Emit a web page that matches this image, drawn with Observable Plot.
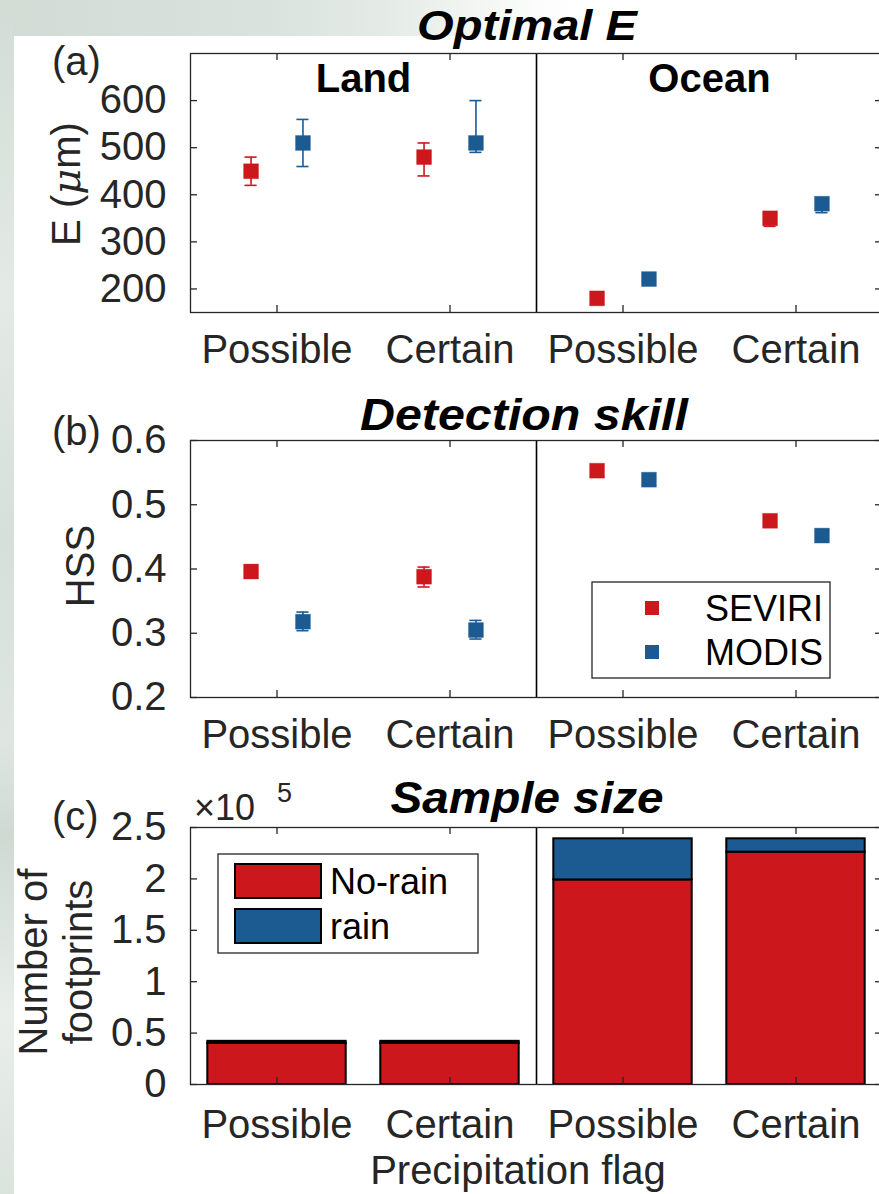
<!DOCTYPE html>
<html>
<head>
<meta charset="utf-8">
<script src="https://cdn.jsdelivr.net/npm/d3@7"></script>
<script src="https://cdn.jsdelivr.net/npm/@observablehq/plot@0.6"></script>
<style>
  html, body { margin: 0; padding: 0; width: 879px; height: 1194px; overflow: hidden; background: #fff; }
  #bgTop { position: absolute; left: 0; top: 0; width: 879px; height: 36px;
    background: linear-gradient(to right, #d2dcd5 0%, #d9e2dc 30%, #e6ece7 45%, #f8faf8 58%, #ffffff 66%); }
  #bgLeft { position: absolute; left: 0; top: 0; width: 14px; height: 1194px;
    background: linear-gradient(to bottom, #d2dcd5 0%, #e4eae5 25%, #d6dfd9 45%, #dfe6e1 62%, #cfd9d2 70%, #e9eeea 85%, #dbe3dd 100%); }
  .panel { position: absolute; left: 0; }
  #overlay { position: absolute; left: 0; top: 0; }
</style>
</head>
<body>
<div id="bgTop"></div>
<div id="bgLeft"></div>
<div id="pa" class="panel" style="top:0px"></div>
<div id="pb" class="panel" style="top:390px"></div>
<div id="pc" class="panel" style="top:770px"></div>
<script>
// ---------------- data ----------------
const categories = ["Possible", "Certain", "Possible", "Certain"];
const surfaceOf  = ["Land", "Land", "Ocean", "Ocean"];
const surfaces   = ["Land", "Ocean"];
const sensors    = ["SEVIRI", "MODIS"];
const rainTypes  = ["No-rain", "rain"];

// Optimal E (µm)
const E_seviri    = [450, 480, 180, 350];
const E_seviri_lo = [420, 440, 174, 333];
const E_seviri_hi = [480, 510, 186, 356];
const E_modis     = [510, 510, 221, 381];
const E_modis_lo  = [460, 490, 215, 362];
const E_modis_hi  = [560, 600, 227, 391];

// Detection skill (HSS)
const hss_seviri    = [0.396, 0.388, 0.553, 0.475];
const hss_seviri_lo = [0.386, 0.372, 0.548, 0.470];
const hss_seviri_hi = [0.406, 0.403, 0.558, 0.480];
const hss_modis     = [0.318, 0.305, 0.539, 0.452];
const hss_modis_lo  = [0.304, 0.291, 0.534, 0.447];
const hss_modis_hi  = [0.333, 0.320, 0.544, 0.457];

// Sample size (number of footprints)
const noRainCount = [40000, 40000, 199000, 226000];
const rainCount   = [2000, 2000, 40000, 13000];

// tick values
const eTicks   = [200, 300, 400, 500, 600];
const hssTicks = [0.2, 0.3, 0.4, 0.5, 0.6];
const nTicks   = [0, 50000, 100000, 150000, 200000, 250000];

// ---------------- styles ----------------
const FONT = '"Liberation Sans", Arial, Helvetica, sans-serif';
const RED = "#cc171d", BLUE = "#1c5a92", INK = "#262626";
const W = 879, ML = 190, MR = -3;
const frameW = W - ML - MR;
const xTicks = categories.map((_, i) => i + 1);
const divider = surfaceOf.filter(s => s === "Land").length + 0.5;
const sensorOffset = {SEVIRI: -0.15, MODIS: 0.15};
const capHalf = 0.035;

function points(vals, los, his) {
  const out = [];
  categories.forEach((c, i) => {
    sensors.forEach((s, k) => {
      out.push({sensor: s, x: i + 1 + sensorOffset[s], v: vals[k][i], lo: los[k][i], hi: his[k][i]});
    });
  });
  return out;
}
const ePts = points([E_seviri, E_modis], [E_seviri_lo, E_modis_lo], [E_seviri_hi, E_modis_hi]);
const hPts = points([hss_seviri, hss_modis], [hss_seviri_lo, hss_modis_lo], [hss_seviri_hi, hss_modis_hi]);

const bars = [];
categories.forEach((c, i) => {
  bars.push({type: "No-rain", pos: i + 1, y1: 0, y2: noRainCount[i]});
  bars.push({type: "rain", pos: i + 1, y1: noRainCount[i], y2: noRainCount[i] + rainCount[i]});
});

const surfaceCenter = s => d3.mean(xTicks.filter((_, i) => surfaceOf[i] === s));

function errorMarks(pts) {
  return [
    Plot.ruleX(pts, {x: "x", y1: "lo", y2: "hi", stroke: "sensor", strokeWidth: 1.6}),
    Plot.ruleY(pts, {y: "lo", x1: d => d.x - capHalf, x2: d => d.x + capHalf, stroke: "sensor", strokeWidth: 1.6}),
    Plot.ruleY(pts, {y: "hi", x1: d => d.x - capHalf, x2: d => d.x + capHalf, stroke: "sensor", strokeWidth: 1.6}),
    Plot.dot(pts, {x: "x", y: "v", symbol: "square", r: 8.4, fill: "sensor", stroke: "sensor", strokeWidth: 0.6, strokeOpacity: 0.6})
  ];
}

function panel({height, marginTop, marginBottom, yDomain, yTicks, yFormat, xPad, colorDomain, marks}) {
  const frameH = height - marginTop - marginBottom;
  return Plot.plot({
    width: W, height, marginLeft: ML, marginRight: MR, marginTop, marginBottom,
    style: {background: "transparent", fontFamily: FONT, fontSize: "40px", color: INK},
    x: {domain: [0.5, 4.5]},
    y: {domain: yDomain},
    color: {domain: colorDomain, range: [RED, BLUE]},
    marks: [
      ...marks,
      Plot.ruleX([divider], {stroke: "#000", strokeWidth: 1.6}),
      Plot.frame({stroke: INK, strokeWidth: 1.3}),
      Plot.tickX(xTicks, {x: d => d, insetTop: frameH - 7, stroke: INK, strokeWidth: 1.3}),
      Plot.tickX(xTicks, {x: d => d, insetBottom: frameH - 7, stroke: INK, strokeWidth: 1.3}),
      Plot.tickY(yTicks, {y: d => d, insetRight: frameW - 7, stroke: INK, strokeWidth: 1.3}),
      Plot.tickY(yTicks, {y: d => d, insetLeft: frameW - 7, stroke: INK, strokeWidth: 1.3}),
      Plot.axisX({ticks: xTicks, tickSize: 0, tickPadding: xPad, tickFormat: d => categories[d - 1], label: null, fill: INK}),
      Plot.axisY({ticks: yTicks, tickSize: 0, tickPadding: 24, tickFormat: yFormat, label: null, fill: INK})
    ]
  });
}

// Panel (a)
document.getElementById("pa").append(panel({
  height: 380, marginTop: 53, marginBottom: 68, yDomain: [150, 700], yTicks: eTicks,
  yFormat: d => String(d), xPad: 22, colorDomain: sensors,
  marks: [
    ...errorMarks(ePts),
    Plot.text(surfaces, {x: s => surfaceCenter(s), text: s => s, frameAnchor: "top", dy: 10,
      fontWeight: "bold", fontSize: 40, fill: "#000"})
  ]
}));

// Panel (b)
document.getElementById("pb").append(panel({
  height: 380, marginTop: 50, marginBottom: 73, yDomain: [0.2, 0.6], yTicks: hssTicks,
  yFormat: d3.format(".1f"), xPad: 22, colorDomain: sensors,
  marks: errorMarks(hPts)
}));

// Panel (c)
document.getElementById("pc").append(panel({
  height: 424, marginTop: 57, marginBottom: 110, yDomain: [0, 250000], yTicks: nTicks,
  yFormat: d => String(+(d / 1e5).toFixed(1)), xPad: 25, colorDomain: rainTypes,
  marks: [
    Plot.rectY(bars, {x1: d => d.pos - 0.4, x2: d => d.pos + 0.4, y1: "y1", y2: "y2", fill: "type", stroke: "#000", strokeWidth: 2})
  ]
}));

// ---------------- annotations & legends ----------------
const svg = d3.create("svg").attr("id", "overlay").attr("width", W).attr("height", 1194)
  .style("font-family", FONT).style("pointer-events", "none");

function txt(x, y, s, o = {}) {
  const t = svg.append("text").attr("x", x).attr("y", y).text(s)
    .attr("font-size", o.size || 40).attr("fill", o.fill || INK)
    .attr("text-anchor", o.anchor || "start");
  if (o.bold) t.attr("font-weight", "bold");
  if (o.italic) t.attr("font-style", "italic");
  if (o.rotate) t.attr("transform", `rotate(-90 ${x} ${y})`);
  if (o.len) t.attr("textLength", o.len).attr("lengthAdjust", "spacingAndGlyphs");
  return t;
}

// titles
txt(527, 40, "Optimal E", {size: 43, bold: true, italic: true, fill: "#000", anchor: "middle", len: 220});
txt(524, 430, "Detection skill", {size: 45, bold: true, italic: true, fill: "#000", anchor: "middle", len: 328});
txt(527, 813, "Sample size", {size: 45, bold: true, italic: true, fill: "#000", anchor: "middle", len: 273});

// panel letters
txt(52, 75, "(a)");
txt(52, 445, "(b)");
txt(52, 830, "(c)");

// y labels
const eLab = txt(80, 184, "", {rotate: true, anchor: "middle"});
eLab.append("tspan").text("E (");
eLab.append("tspan").attr("font-style", "italic").attr("font-family", '"DejaVu Serif", serif').text("μ");
eLab.append("tspan").text("m)");
txt(94, 566, "HSS", {rotate: true, anchor: "middle"});
txt(47, 962, "Number of", {rotate: true, anchor: "middle"});
txt(92, 962, "footprints", {rotate: true, anchor: "middle"});

// x label
txt(518, 1184, "Precipitation flag", {anchor: "middle"});

// exponent
txt(194, 820, "×10", {size: 36});
txt(277, 802, "5", {size: 27});

// legend (b)
svg.append("rect").attr("x", 592).attr("y", 582).attr("width", 238).attr("height", 96)
  .attr("fill", "#fff").attr("stroke", INK).attr("stroke-width", 1.3);
sensors.forEach((s, i) => {
  const cy = 608 + i * 44;
  svg.append("rect").attr("x", 645).attr("y", cy - 7).attr("width", 14).attr("height", 14)
    .attr("fill", [RED, BLUE][i]);
  txt(705, cy + 13, s, {size: 36, fill: "#000"});
});

// legend (c)
svg.append("rect").attr("x", 218).attr("y", 854).attr("width", 260).attr("height", 99)
  .attr("fill", "#fff").attr("stroke", INK).attr("stroke-width", 1.3);
rainTypes.forEach((s, i) => {
  const y0 = 864 + i * 45;
  svg.append("rect").attr("x", 235).attr("y", y0).attr("width", 86).attr("height", 34)
    .attr("fill", [RED, BLUE][i]).attr("stroke", "#000").attr("stroke-width", 2);
  txt(330, y0 + 30, s, {size: 36, fill: "#000"});
});

document.body.append(svg.node());
</script>
</body>
</html>
